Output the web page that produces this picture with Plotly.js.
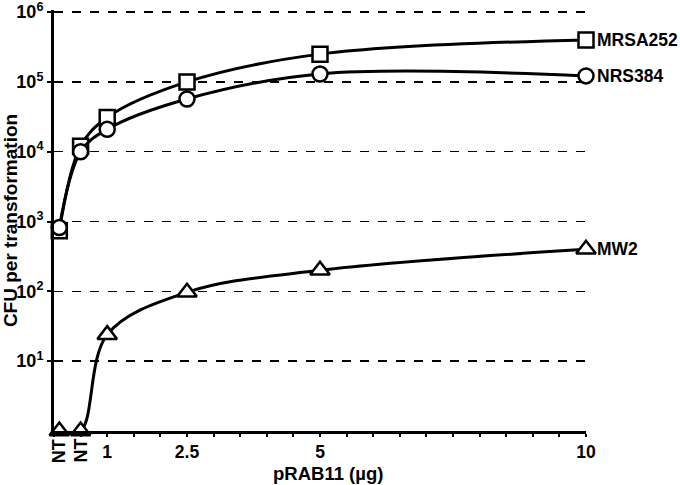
<!DOCTYPE html>
<html>
<head>
<meta charset="utf-8">
<script src="https://cdn.plot.ly/plotly-3.0.1.min.js"></script>
<style>body{margin:0;padding:0;background:#fff;}#chart{width:680px;height:485px;}</style>
</head>
<body>
<div id="chart"></div>
<script>
// Data
const doses = [0.1, 0.5, 1, 2.5, 5, 10]; // first two positions are the "NT" controls
const mrsa252 = [740, 12000, 31000, 100000, 250000, 400000];
const nrs384 = [820, 10000, 21000, 57000, 130000, 122000];
const mw2 = [1, 1, 24, 97, 200, 400];
const seriesNames = ["MRSA252", "NRS384", "MW2"];
const xTickVals = [1, 2.5, 5, 10];
const xTickText = ["1", "2.5", "5", "10"];
const ntPositions = [0.1, 0.5];
const ntLabel = "NT";
const yTickVals = [10, 100, 1000, 10000, 100000, 1000000];
const yTickText = ["10<sup>1</sup>", "10<sup>2</sup>", "10<sup>3</sup>", "10<sup>4</sup>", "10<sup>5</sup>", "10<sup>6</sup>"];

const F = "Liberation Sans";
const FS = 17.5;
function b(s) { return "<b>" + s + "</b>"; }
function tr(y, sym, name, size) {
  return {
    x: doses, y: y, name: name, type: "scatter", mode: "lines+markers",
    line: {color: "#000", width: 3, shape: "spline", smoothing: 1},
    marker: {symbol: sym, size: size, color: "#fff",
             line: {color: "#000", width: 2.5}},
    cliponaxis: false
  };
}
const traces = [
  tr(mrsa252, "square", seriesNames[0], 15),
  tr(nrs384, "circle", seriesNames[1], 15),
  tr(mw2, "triangle-up", seriesNames[2], 17)
];

const annotations = [
  {x: 10, y: Math.log10(mrsa252[5]), text: b(seriesNames[0])},
  {x: 10, y: Math.log10(nrs384[5]), text: b(seriesNames[1])},
  {x: 10, y: Math.log10(mw2[5]), text: b(seriesNames[2])}
].map(a => Object.assign(a, {xref: "x", yref: "y", xanchor: "left", yanchor: "middle",
  xshift: 9, showarrow: false, font: {family: F, size: FS, color: "#000"}}));
ntPositions.forEach(p => annotations.push({
  x: p, y: 0, xref: "x", yref: "y", yshift: -20, textangle: -90, text: b(ntLabel),
  showarrow: false, xanchor: "center", yanchor: "middle",
  font: {family: F, size: 18, color: "#000"}
}));
// x-axis title (placed as annotation to match the reference's slight offset)
annotations.push({
  x: 0.5, y: 0, xref: "paper", yref: "paper", xshift: 8, yshift: -42,
  text: b("pRAB11 (µg)"), showarrow: false, xanchor: "center", yanchor: "middle",
  font: {family: F, size: 18.5, color: "#000"}
});

const layout = {
  width: 680, height: 485,
  margin: {l: 54, r: 94, t: 10, b: 54},
  paper_bgcolor: "#fff", plot_bgcolor: "#fff",
  showlegend: false,
  font: {family: F, size: FS, color: "#000"},
  xaxis: {
    range: [0, 10], showgrid: false, zeroline: false,
    showline: true, linecolor: "#000", linewidth: 3,
    tickvals: xTickVals, ticktext: xTickText.map(b),
    ticks: "outside", ticklen: 3, tickwidth: 2, tickcolor: "#000",
    minor: {dtick: 0.5, ticks: "outside", ticklen: 3, tickwidth: 2, tickcolor: "#000", showgrid: false},
    tickfont: {family: F, size: 17.5, color: "#000"}
  },
  yaxis: {
    type: "log", range: [0, 6.03], zeroline: false,
    showline: true, linecolor: "#000", linewidth: 3,
    showgrid: true, gridcolor: "#000", gridwidth: 1.5, griddash: "dash",
    tickvals: yTickVals, ticktext: yTickText.map(b),
    ticks: "outside", ticklen: 4, tickwidth: 2, tickcolor: "#000",
    ticklabeloverflow: "allow",
    tickfont: {family: F, size: 18, color: "#000"},
    title: {text: b("CFU per transformation"), font: {family: F, size: 19, color: "#000"}, standoff: 2}
  },
  annotations: annotations
};
Plotly.newPlot("chart", traces, layout, {staticPlot: true, displayModeBar: false});
</script>
</body>
</html>
